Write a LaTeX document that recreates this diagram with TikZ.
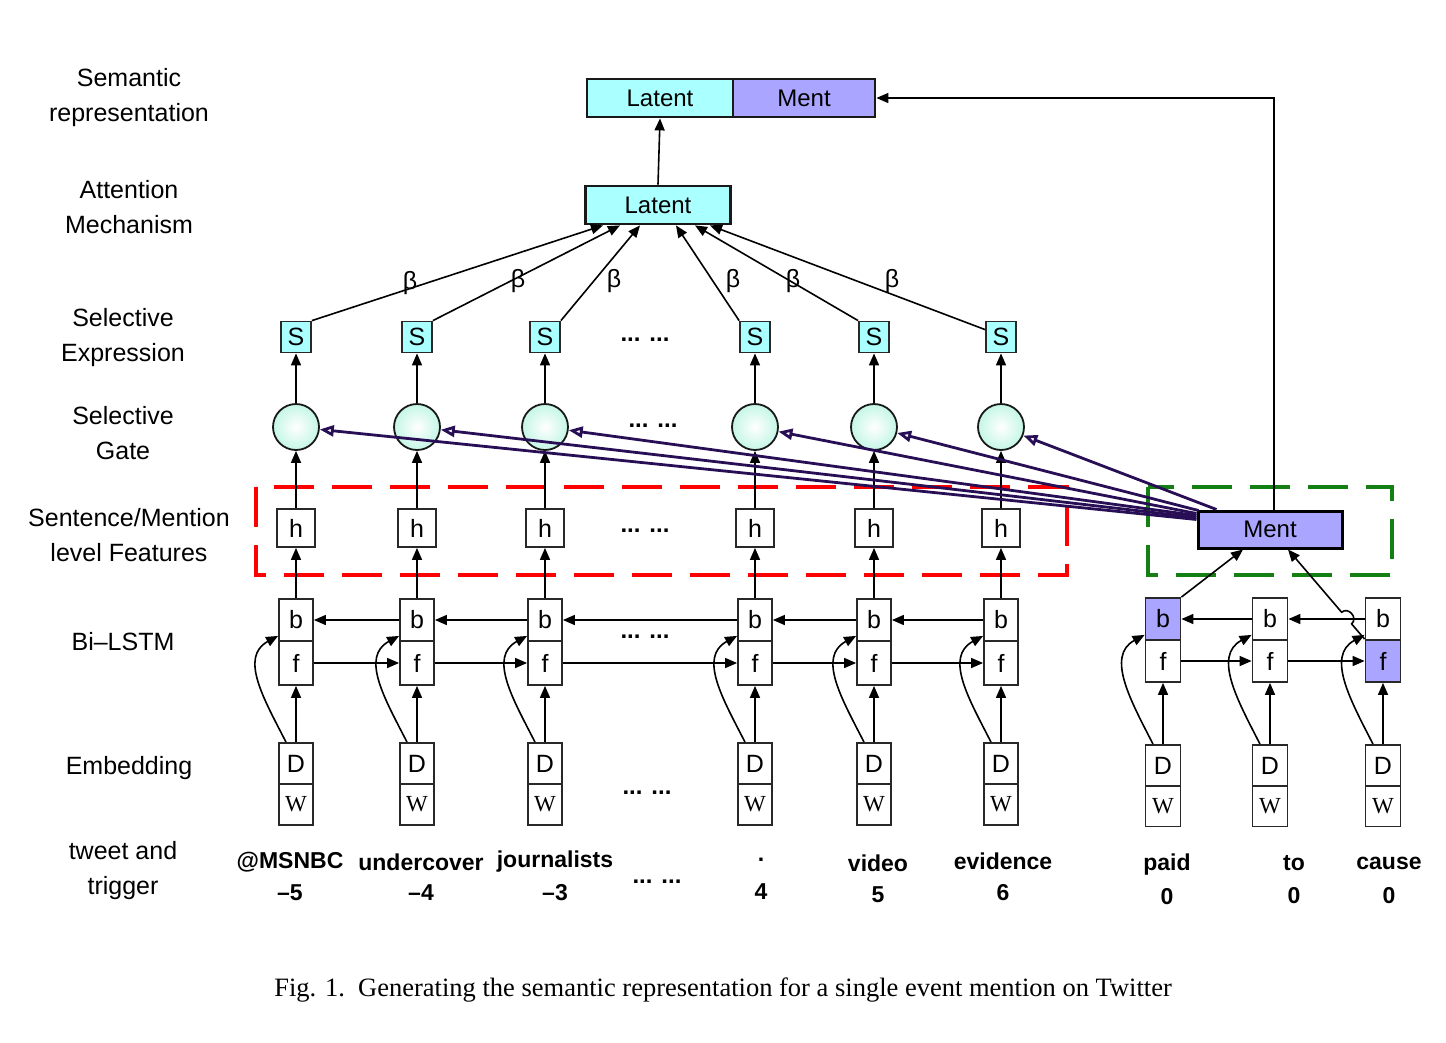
\documentclass[tikz,border=0pt]{standalone}
\usepackage{fontspec}
\setmainfont{Liberation Sans}
\newfontfamily\capfont{Liberation Serif}
\usetikzlibrary{arrows.meta,calc}
\definecolor{cyanf}{RGB}{170,255,255}
\definecolor{purf}{RGB}{170,166,255}
\definecolor{mint}{RGB}{196,246,230}
\definecolor{gatep}{RGB}{40,15,85}
\definecolor{dgreen}{RGB}{20,128,20}
\definecolor{boxline}{RGB}{40,40,40}
\begin{document}
\begin{tikzpicture}[x=1pt,y=-1pt,
  cell/.style={draw=boxline,line width=1.8pt,inner sep=0pt,font=\fontsize{25}{25}\selectfont},
  sbox/.style={cell,fill=cyanf,minimum width=30pt,minimum height=31pt},
  hbox/.style={cell,minimum width=38pt,minimum height=38pt},
  bbox/.style={cell,minimum width=34pt,minimum height=42pt},
  fbox/.style={cell,minimum width=34pt,minimum height=44pt},
  dbox/.style={cell,minimum width=34pt,minimum height=41pt},
  wbox/.style={cell,minimum width=34pt,minimum height=41pt,font=\capfont\fontsize{23}{23}\selectfont},
  gate/.style={circle,draw=black!90,line width=1.8pt,minimum size=46pt,inner sep=0pt,inner color=white,outer color=mint},
  topbox/.style={draw=black!90,line width=2.8pt,inner sep=0pt,minimum height=38pt,font=\fontsize{24}{24}\selectfont},
  lab/.style={align=center,font=\fontsize{25}{35}\selectfont},
  word/.style={font=\bfseries\fontsize{23}{23}\selectfont},
  dots/.style={font=\bfseries\fontsize{24}{24}\selectfont},
  beta/.style={font=\fontsize{25}{25}\selectfont},
  arr/.style={-{Triangle[length=12pt,width=10pt]},line width=1.6pt,draw=black},
  parr/.style={-{Triangle[open,length=14pt,width=11pt]},line width=2.8pt,draw=gatep},
]
\useasboundingbox (0,0) rectangle (1446,1042);

% ---- left labels
\node[lab] (lsem) at (129,98) {Semantic\\representation};
\node[lab] (latt) at (129,207) {Attention\\Mechanism};
\node[lab] (lsex) at (123,338) {Selective\\Expression};
\node[lab] (lsg) at (123,433) {Selective\\Gate};
\node[lab] (lsent) at (129,535) {Sentence/Mention\\level Features};
\node[lab] (lbi) at (123,642) {Bi–LSTM};
\node[lab] (lemb) at (129,768) {Embedding};
\node[lab] (ltw) at (123,871) {tweet and\\trigger};

% ---- dashed regions
\draw[red,line width=4pt,dash pattern=on 40pt off 18pt] (256,487) rectangle (1067,575);
\draw[dgreen,line width=4pt,dash pattern=on 40pt off 18pt] (1148,487) rectangle (1392,575);

% ---- top boxes
\node[topbox,fill=cyanf,minimum width=146pt] (lat1) at (660,98) {Latent};
\node[topbox,fill=purf,minimum width=142pt] (ment1) at (804,98) {Ment};
\node[topbox,fill=cyanf,minimum width=145pt] (lat2) at (658,205) {Latent};
\draw[arr] (lat2.north) -- (lat1.south);

% ---- left columns
\foreach \i/\x in {1/296,2/417,3/545,4/755,5/874,6/1001}{
  \node[sbox] (s\i) at (\x,337) {S};
  \node[gate] (g\i) at (\x,427) {};
  \node[hbox] (h\i) at (\x,528) {h};
  \node[bbox] (b\i) at (\x,620) {b};
  \node[fbox] (f\i) at (\x,663) {f};
  \node[dbox] (d\i) at (\x,763.5) {D};
  \node[wbox] (w\i) at (\x,804.5) {W};
  \draw[arr] (g\i.north) -- (s\i.south);
  \draw[arr] (h\i.north) -- (g\i.south);
  \draw[arr] (b\i.north) -- (h\i.south);
  \draw[arr] (d\i.north) -- (f\i.south);
  \draw[arr] ($(d\i.north)+(-10,0)$) .. controls +(-22,-43) and +(-39,21) .. ($(b\i.south west)+(0,-6)$);
}
\foreach \a/\b in {1/2,2/3,3/4,4/5,5/6}{
  \draw[arr] (f\a.east) -- (f\b.west);
  \draw[arr] (b\b.west) -- (b\a.east);
}

% ---- right columns
\node[bbox,fill=purf,minimum width=35pt] (rb1) at (1163,619) {b};
\node[bbox,minimum width=35pt] (rb2) at (1270,619) {b};
\node[bbox,minimum width=35pt] (rb3) at (1383,619) {b};
\node[fbox,minimum width=35pt,minimum height=42pt] (rf1) at (1163,661) {f};
\node[fbox,minimum width=35pt,minimum height=42pt] (rf2) at (1270,661) {f};
\node[fbox,fill=purf,minimum width=35pt,minimum height=42pt] (rf3) at (1383,661) {f};
\foreach \i/\x in {1/1163,2/1270,3/1383}{
  \node[dbox,minimum width=35pt] (rd\i) at (\x,765.5) {D};
  \node[wbox,minimum width=35pt] (rw\i) at (\x,806) {W};
  \draw[arr] (rd\i.north) -- (rf\i.south);
  \draw[arr] ($(rd\i.north)+(-10,0)$) .. controls +(-22,-43) and +(-39,21) .. ($(rb\i.south west)+(0,-6)$);
}
\draw[arr] (rf1.east) -- (rf2.west);
\draw[arr] (rf2.east) -- (rf3.west);
\draw[arr] (rb3.west) -- (rb2.east);
\draw[arr] (rb2.west) -- (rb1.east);

\node[cell,fill=purf,draw=black,line width=3pt,minimum width=144pt,minimum height=37pt,font=\fontsize{24}{24}\selectfont] (mentm) at (1270,529.5) {Ment};
\draw[arr] (rb1.north east) -- ($(mentm.south)+(-27,0)$);
\coordinate (hA) at (rf3.north west);
\coordinate (hB) at ($(mentm.south)+(18,0)$);
\draw[arr] (hA) -- ($(hA)!0.17!(hB)$)
  .. controls ($(hA)!0.17!(hB)!9pt!-90:(hB)$) and ($(hA)!0.30!(hB)!9pt!-90:(hB)$) ..
  ($(hA)!0.30!(hB)$) -- (hB);
\draw[arr] ($(mentm.north)+(4,0)$) |- (ment1.east);

% ---- attention lines
\draw[arr] (s1.north east) -- ($(lat2.south)+(-55,0)$);
\draw[arr] (s2.north east) -- ($(lat2.south)+(-38,0)$);
\draw[arr] (s3.north east) -- ($(lat2.south)+(-18,0)$);
\draw[arr] (s4.north west) -- ($(lat2.south)+(18,0)$);
\draw[arr] (s5.north west) -- ($(lat2.south)+(37,0)$);
\draw[arr] ($(s6.north west)+(0,9)$) -- ($(lat2.south)+(52,0)$);
\node[beta] (be1) at (410,283) {β};
\node[beta] (be2) at (518,281) {β};
\node[beta] (be3) at (614,281) {β};
\node[beta] (be4) at (733,281) {β};
\node[beta] (be5) at (793,281) {β};
\node[beta] (be6) at (892,281) {β};

% ---- gate inputs from mention
\draw[parr] ($(mentm.north west)+(0,10)$) -- (g1);
\draw[parr] ($(mentm.north west)+(0,8)$) -- (g2);
\draw[parr] ($(mentm.north west)+(0,6)$) -- (g3);
\draw[parr] ($(mentm.north west)+(0,4)$) -- (g4);
\draw[parr] ($(mentm.north west)+(2,1)$) -- (g5);
\draw[parr] ($(mentm.north west)+(20,0)$) -- (g6);

% ---- dots
\node[dots] (dt1) at (645,340) {... ...};
\node[dots] (dt2) at (653,426) {... ...};
\node[dots] (dt3) at (645,531) {... ...};
\node[dots] (dt4) at (645,637) {... ...};
\node[dots] (dt5) at (647,793) {... ...};
\node[dots] (dt6) at (657,882) {... ...};

% ---- words
\node[word] (t1) at (290,862) {@MSNBC};
\node[word] (n1) at (290,893) {–5};
\node[word] (t2) at (421,862) {undercover};
\node[word] (n2) at (421,893) {–4};
\node[word] (t3) at (555,862) {journalists};
\node[word] (n3) at (555,893) {–3};
\node[word] (t4) at (761,860) {.};
\node[word] (n4) at (761,892) {4};
\node[word] (t5) at (878,863) {video};
\node[word] (n5) at (878,895) {5};
\node[word] (t6) at (1003,861) {evidence};
\node[word] (n6) at (1003,893) {6};
\node[word] (t7) at (1167,865) {paid};
\node[word] (n7) at (1167,897) {0};
\node[word] (t8) at (1294,863) {to};
\node[word] (n8) at (1294,896) {0};
\node[word] (t9) at (1389,863) {cause};
\node[word] (n9) at (1389,896) {0};

% ---- caption
\node[font=\capfont\fontsize{26.5}{26.5}\selectfont] (cap) at (723,990) {Fig. 1.\ \ Generating the semantic representation for a single event mention on Twitter};
\end{tikzpicture}
\end{document}
